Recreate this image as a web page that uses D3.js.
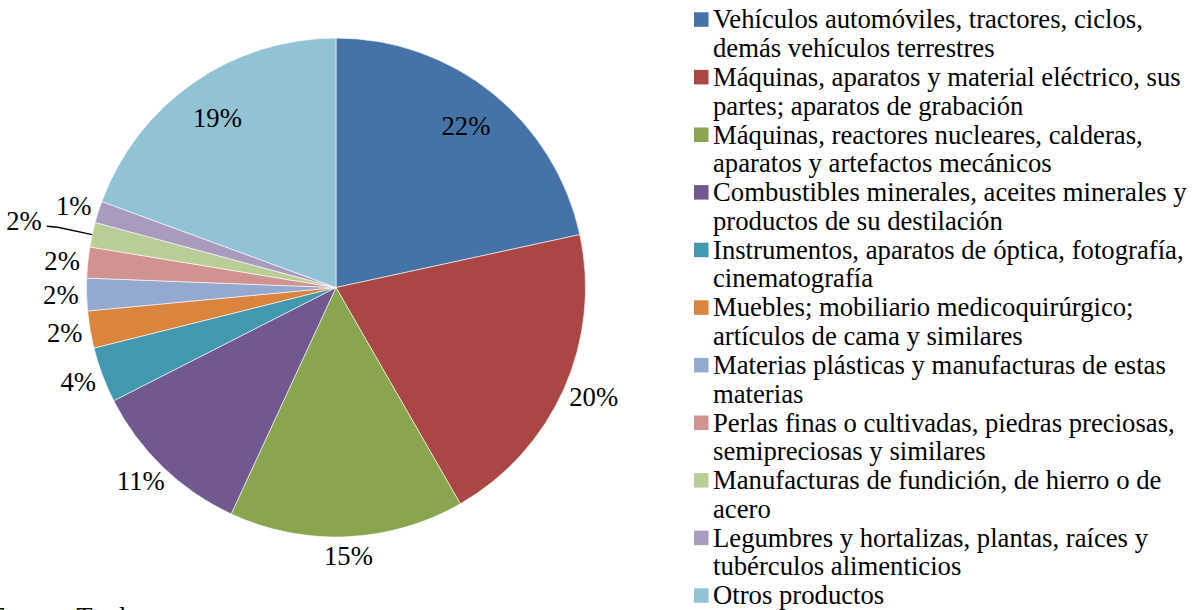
<!DOCTYPE html>
<html>
<head>
<meta charset="utf-8">
<script src="https://cdn.jsdelivr.net/npm/d3@7"></script>
<style>
  html, body { margin: 0; padding: 0; background: #fff; overflow: hidden; }
  svg { display: block; }
</style>
</head>
<body>
<svg id="container"></svg>
<script>
const categories = [
  "Vehículos automóviles, tractores, ciclos, demás vehículos terrestres",
  "Máquinas, aparatos y material eléctrico, sus partes; aparatos de grabación",
  "Máquinas, reactores nucleares, calderas, aparatos y artefactos mecánicos",
  "Combustibles minerales, aceites minerales y productos de su destilación",
  "Instrumentos, aparatos de óptica, fotografía, cinematografía",
  "Muebles; mobiliario medicoquirúrgico; artículos de cama y similares",
  "Materias plásticas y manufacturas de estas materias",
  "Perlas finas o cultivadas, piedras preciosas, semipreciosas y similares",
  "Manufacturas de fundición, de hierro o de acero",
  "Legumbres y hortalizas, plantas, raíces y tubérculos alimenticios",
  "Otros productos"
];
const shares = [21.6, 20.1, 15.2, 10.6, 3.6, 2.4, 2.1, 2.0, 1.6, 1.4, 19.4];
const colors = ["#4572A7", "#AA4643", "#89A54E", "#71588F", "#4198AF", "#DB843D",
                "#93A9CF", "#D19392", "#B9CD96", "#A99BBD", "#92C3D4"];
const sourceNote = "Fuente: Trademap";

const width = 1199, height = 610;
const cx = 336, cy = 287.5, radius = 249.5;
const fontSize = 26.7;
const fontFamily = "'Liberation Serif', 'Times New Roman', serif";
const insideSlices = [0, 10];
const leaderSlices = [8];

const svg = d3.select("#container")
  .attr("width", width)
  .attr("height", height)
  .attr("font-family", fontFamily);

const color = d3.scaleOrdinal().domain(categories).range(colors);
const total = d3.sum(shares);
const pct = d3.format(".0%");

const pie = d3.pie().sort(null).value((d) => d.value);
const arcs = pie(categories.map((c, i) => ({ name: c, value: shares[i] })));
const arc = d3.arc().innerRadius(0).outerRadius(radius);

const g = svg.append("g").attr("transform", `translate(${cx},${cy})`);

g.selectAll(".slice")
  .data(arcs)
  .join("path")
  .attr("class", "slice")
  .attr("d", arc)
  .attr("fill", (d) => color(d.data.name))
  .attr("stroke", "#fff")
  .attr("stroke-width", 0.6);

// labels: two big slices inside, the rest just outside the edge
const labels = g.selectAll(".pct")
  .data(arcs)
  .join("text")
  .attr("class", "pct")
  .attr("font-size", fontSize)
  .attr("fill", "#000")
  .attr("text-anchor", "middle")
  .attr("dy", "0.34em")
  .text((d) => pct(d.data.value / total));

labels.each(function (d, i) {
  const t = d3.select(this);
  const mid = (d.startAngle + d.endAngle) / 2;
  const s = Math.sin(mid), c = Math.cos(mid);
  if (insideSlices.includes(i)) {
    const r = radius * 0.83;
    t.attr("x", r * s).attr("y", -r * c);
    return;
  }
  const hw = this.getComputedTextLength() / 2, hh = 11;
  const leader = leaderSlices.includes(i);
  const r = radius + (leader ? 52 : 8);
  const x = r * s + s * hw, y = -r * c - c * hh;
  t.attr("x", x).attr("y", y);
  if (leader) {
    const x0 = x + hw + 5, y0 = y + 5;
    g.append("path")
      .attr("d", d3.line()([[x0, y0], [x0 + 11, y0 + 1], [radius * s, -radius * c]]))
      .attr("fill", "none")
      .attr("stroke", "#000")
      .attr("stroke-width", 1.3);
  }
});

function wrap(text, w) {
  text.each(function () {
    const t = d3.select(this);
    const words = t.text().split(/\s+/).reverse();
    const x = t.attr("x"), y = t.attr("y");
    let line = [], word, n = 0;
    let tspan = t.text(null).append("tspan").attr("x", x).attr("y", y);
    while ((word = words.pop())) {
      line.push(word);
      tspan.text(line.join(" "));
      if (tspan.node().getComputedTextLength() > w) {
        line.pop();
        tspan.text(line.join(" "));
        line = [word];
        tspan = t.append("tspan").attr("x", x).attr("y", y).attr("dy", ++n * 28.8).text(word);
      }
    }
  });
}

const legend = svg.append("g").attr("transform", "translate(694,28.3)");
const legendItems = legend.selectAll(".legend-item")
  .data(categories)
  .join("g")
  .attr("class", "legend-item")
  .attr("transform", (d, i) => `translate(0,${i * 57.6})`);

legendItems.append("rect")
  .attr("x", 0)
  .attr("y", -16)
  .attr("width", 14.5)
  .attr("height", 14.5)
  .attr("fill", (d) => color(d));

legendItems.append("text")
  .attr("x", 19)
  .attr("y", 0)
  .attr("font-size", fontSize)
  .attr("fill", "#000")
  .text((d) => d)
  .call(wrap, 482);

svg.append("text")
  .attr("x", -10)
  .attr("y", 626)
  .attr("font-size", fontSize)
  .attr("fill", "#000")
  .text(sourceNote);
</script>
</body>
</html>
